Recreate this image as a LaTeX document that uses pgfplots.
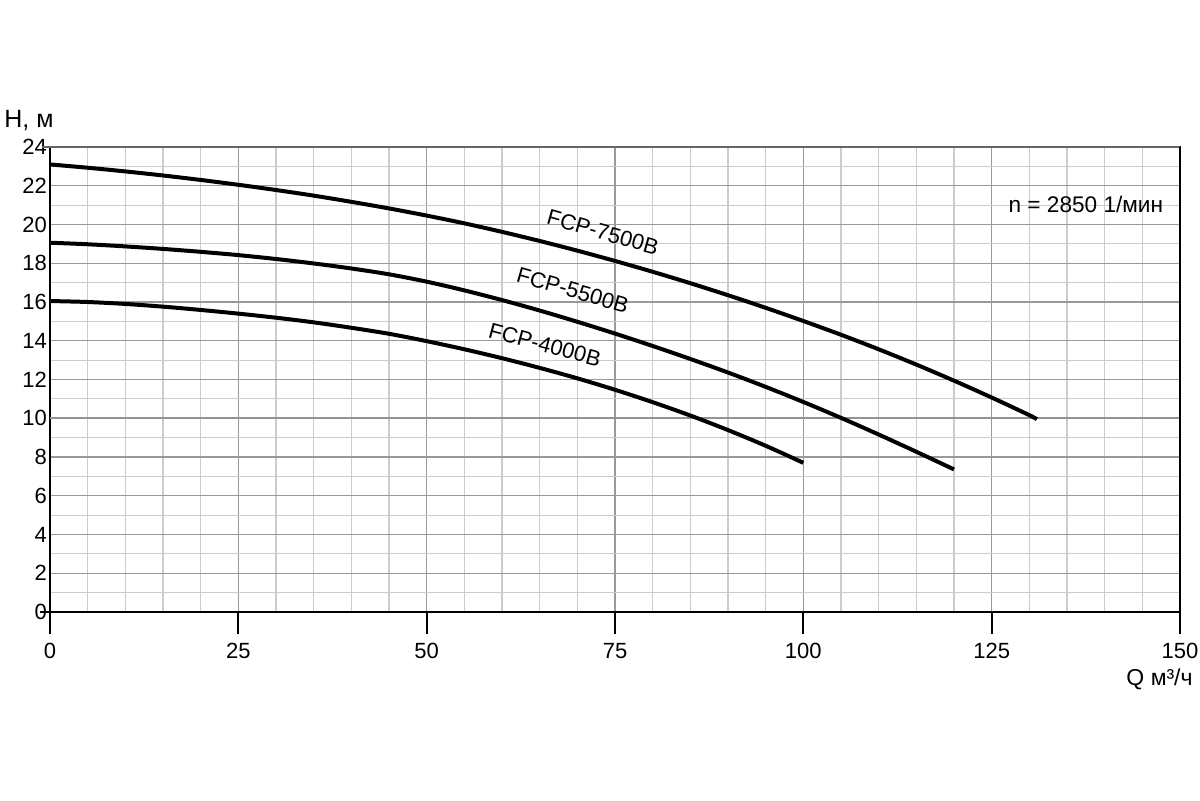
\documentclass[border=0pt]{standalone}
\usepackage{fontspec}
\setmainfont{Liberation Sans}
\usepackage{pgfplots}
\pgfplotsset{compat=1.18}
\begin{document}
\begin{tikzpicture}
\path[use as bounding box] (-25pt,-94pt) rectangle (575pt,306pt);
\begin{axis}[
  at={(0,0)}, anchor=south west,
  scale only axis, width=565pt, height=232.5pt,
  xmin=0, xmax=150, ymin=0, ymax=24,
  xtick={0,25,...,150}, minor xtick={5,10,...,145},
  ytick={0,2,...,24}, minor ytick={1,3,...,23},
  xtick pos=bottom, ytick pos=left,
  grid=both,
  major grid style={gray!80, line width=0.55pt},
  minor grid style={gray!40, line width=0.55pt},
  axis line style={black, line width=1pt},
  x tick style={black, line width=1pt},
  xtick align=outside, major tick length=11pt,
  ytick style={draw=none},
  minor tick length=0pt,
  /pgf/number format/assume math mode=true,
  tick label style={font=\fontsize{11}{13}\selectfont},
  xticklabel style={yshift=-1pt},
  yticklabel style={xshift=2pt},
  clip=false,
]
\draw[gray!85, line width=1.1pt] (axis cs:0,10) -- (axis cs:150,10);
\addplot[black, line width=2pt, smooth] coordinates {
(0,23.1) (5,22.93) (10,22.74) (15,22.53) (20,22.3) (25,22.05) (30,21.78) (35,21.49) (40,21.17) (45,20.83) (50,20.46) (55,20.06) (60,19.62) (65,19.15) (70,18.65) (75,18.12) (80,17.56) (85,16.97) (90,16.35) (95,15.7) (100,15.02) (105,14.31) (110,13.56) (115,12.77) (120,11.94) (125,11.07) (130,10.16) (131,9.95)};
\addplot[black, line width=2pt, smooth] coordinates {
(0,19.06) (5,18.98) (10,18.87) (15,18.74) (20,18.59) (25,18.42) (30,18.22) (35,17.99) (40,17.73) (45,17.43) (50,17.05) (55,16.6) (60,16.1) (65,15.56) (70,14.98) (75,14.37) (80,13.73) (85,13.06) (90,12.36) (95,11.62) (100,10.84) (105,10.02) (110,9.16) (115,8.27) (120,7.36)};
\addplot[black, line width=2pt, smooth] coordinates {
(0,16.05) (5,16.0) (10,15.9) (15,15.76) (20,15.59) (25,15.4) (30,15.19) (35,14.95) (40,14.67) (45,14.36) (50,13.98) (55,13.56) (60,13.1) (65,12.6) (70,12.06) (75,11.47) (80,10.83) (85,10.14) (90,9.39) (95,8.58) (100,7.7)};
\node[rotate=-16, inner sep=0.5pt, font=\fontsize{11}{13}\selectfont] at (axis cs:73.4,19.6) {FCP-7500B};
\node[rotate=-16, inner sep=0.5pt, font=\fontsize{11}{13}\selectfont] at (axis cs:69.4,16.6) {FCP-5500B};
\node[rotate=-15, inner sep=0.5pt, font=\fontsize{11}{13}\selectfont] at (axis cs:65.7,13.8) {FCP-4000B};
\node[anchor=base, inner sep=0pt, font=\fontsize{11.3}{13}\selectfont] at (axis cs:137.5,20.6) {n = 2850 1/мин};
\draw[gray!80!black, line width=1pt] (axis cs:0,24) ++(-4pt,0) -- (axis cs:150,24);
\draw[black, line width=1pt] (axis cs:0,0) ++(-5pt,0) -- (axis cs:0,0);
\draw[black, line width=1pt] (axis cs:150,0) -- (axis cs:150,24);
\node[anchor=base west, inner sep=0pt, font=\fontsize{12.5}{14}\selectfont] at (-23pt,242.5pt) {H, м};
\node[anchor=base east, inner sep=0pt, font=\fontsize{11.5}{13}\selectfont] at (571.5pt,-36.5pt) {Q м³/ч};
\end{axis}
\end{tikzpicture}
\end{document}
